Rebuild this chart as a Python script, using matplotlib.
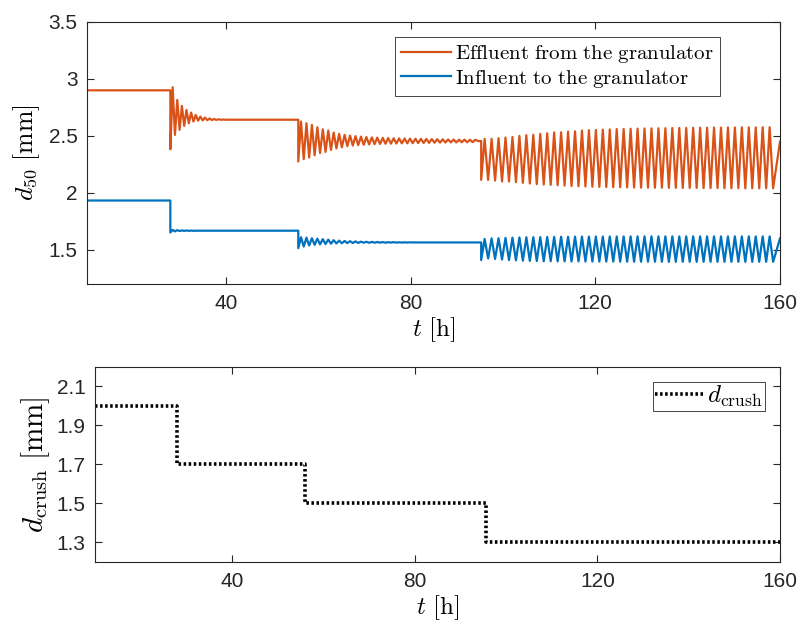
import matplotlib
matplotlib.use("Agg")
import matplotlib.pyplot as plt
import numpy as np

plt.rcParams['font.family'] = ['Liberation Sans', 'DejaVu Sans']
plt.rcParams['mathtext.fontset'] = 'cm'

# time axis range and step times [h]
t_start, t_end = 10.0, 160.0
t_jump = [28.0, 55.7, 95.3]
period = [1.0, 1.18, 1.505]

# effluent from the granulator, d50 [mm]
eff_start = 2.90
eff_settle = [2.642, 2.455]
eff_trough_1 = [2.383, 2.509, 2.553, 2.588, 2.611, 2.626, 2.633, 2.636, 2.638, 2.639, 2.640, 2.641, 2.641, 2.642]
eff_peak_1 = [2.927, 2.816, 2.763, 2.728, 2.705, 2.684, 2.670, 2.661, 2.653, 2.648, 2.646, 2.644, 2.643, 2.642]
eff_trough_2 = [2.275, 2.296, 2.310, 2.330, 2.350, 2.360, 2.377, 2.390, 2.400, 2.410, 2.415, 2.419, 2.422,
                2.425, 2.427, 2.429, 2.431, 2.432, 2.433, 2.434, 2.435, 2.436, 2.437, 2.438, 2.439, 2.440,
                2.441, 2.442, 2.443, 2.443, 2.444, 2.444, 2.445]
eff_peak_2 = [2.626, 2.611, 2.596, 2.576, 2.558, 2.547, 2.529, 2.518, 2.509, 2.503, 2.498, 2.494, 2.490,
              2.487, 2.485, 2.483, 2.481, 2.479, 2.478, 2.477, 2.476, 2.475, 2.474, 2.473, 2.472, 2.471,
              2.470, 2.469, 2.468, 2.467, 2.467, 2.466, 2.466]
eff_trough_3 = [2.114, 2.114, 2.108, 2.100, 2.100, 2.094, 2.088, 2.082, 2.076, 2.073, 2.070, 2.067, 2.064,
                2.060, 2.058, 2.056, 2.054, 2.052, 2.051, 2.050, 2.049, 2.048, 2.047, 2.046, 2.046, 2.045,
                2.045, 2.044, 2.044, 2.043, 2.043, 2.043, 2.042, 2.042, 2.042, 2.041, 2.041, 2.041, 2.040,
                2.040, 2.040, 2.040, 2.040]
eff_peak_3 = [2.474, 2.474, 2.480, 2.486, 2.490, 2.500, 2.506, 2.510, 2.518, 2.523, 2.530, 2.532, 2.538,
              2.540, 2.547, 2.550, 2.552, 2.555, 2.557, 2.560, 2.561, 2.563, 2.564, 2.565, 2.566, 2.567,
              2.568, 2.569, 2.570, 2.570, 2.571, 2.572, 2.572, 2.573, 2.573, 2.574, 2.574, 2.575, 2.575,
              2.575, 2.576, 2.576]
eff_end = 2.45

# influent to the granulator, d50 [mm]
inf_start = 1.933
inf_settle = [1.668, 1.565]
inf_trough_1 = [1.652, 1.662, 1.665, 1.666, 1.667, 1.667, 1.668]
inf_peak_1 = [1.675, 1.673, 1.671, 1.670, 1.669, 1.668, 1.668]
inf_trough_2 = [1.515, 1.529, 1.538, 1.544, 1.548, 1.551, 1.554, 1.556, 1.558, 1.559, 1.560, 1.561, 1.562,
                1.562, 1.563, 1.563, 1.563, 1.564, 1.564, 1.564, 1.564, 1.565, 1.565]
inf_peak_2 = [1.611, 1.607, 1.602, 1.598, 1.594, 1.590, 1.585, 1.581, 1.578, 1.576, 1.574, 1.572, 1.571,
              1.570, 1.569, 1.568, 1.567, 1.567, 1.566, 1.566, 1.566, 1.565, 1.565]
inf_trough_3 = [1.410, 1.425, 1.420, 1.415, 1.410, 1.408, 1.405, 1.403, 1.402, 1.400, 1.400, 1.399, 1.399,
                1.398, 1.398, 1.398, 1.397, 1.397, 1.397, 1.397, 1.396, 1.396, 1.396, 1.396, 1.396, 1.396,
                1.395, 1.395, 1.395, 1.395, 1.395, 1.395, 1.395, 1.395, 1.395, 1.395, 1.395, 1.395, 1.395,
                1.395, 1.395, 1.395, 1.395]
inf_peak_3 = [1.595, 1.600, 1.602, 1.605, 1.607, 1.609, 1.610, 1.611, 1.612, 1.613, 1.614, 1.615, 1.615,
              1.616, 1.616, 1.616, 1.617, 1.617, 1.617, 1.617, 1.617, 1.618, 1.618, 1.618, 1.618, 1.618,
              1.618, 1.618, 1.618, 1.618, 1.618, 1.618, 1.618, 1.618, 1.618, 1.618, 1.618, 1.618, 1.618,
              1.618, 1.618, 1.618]
inf_end = 1.60

# crushing size
crush_t = [10.0, 28.0, 56.0, 95.5, 160.0]
crush_d = [2.0, 1.7, 1.5, 1.3, 1.3]


def trace(start, settle, troughs, peaks, end):
    # piecewise line through the read-off extremes of each oscillation
    tt = [t_start, t_jump[0]]
    yy = [start, start]
    for i in range(3):
        P = period[i]
        t0 = t_jump[i]
        for k in range(len(troughs[i])):
            tt.append(t0 + k * P)
            yy.append(troughs[i][k])
            if k < len(peaks[i]):
                tt.append(t0 + (k + 0.5) * P)
                yy.append(peaks[i][k])
        if i < 2:
            tt += [t0 + len(troughs[i]) * P, t_jump[i + 1]]
            yy += [settle[i], settle[i]]
    tt.append(t_end)
    yy.append(end)
    return np.array(tt), np.array(yy)


t_eff, y_eff = trace(eff_start, eff_settle, [eff_trough_1, eff_trough_2, eff_trough_3],
                     [eff_peak_1, eff_peak_2, eff_peak_3], eff_end)
t_inf, y_inf = trace(inf_start, inf_settle, [inf_trough_1, inf_trough_2, inf_trough_3],
                     [inf_peak_1, inf_peak_2, inf_peak_3], inf_end)

axcol = '#262626'
fig = plt.figure(figsize=(8, 6.27), dpi=100)
ax1 = fig.add_axes([0.109, 0.547, 0.866, 0.418])
ax2 = fig.add_axes([0.119, 0.104, 0.856, 0.311])

ax1.plot(t_eff, y_eff, color='#D95319', lw=1.6, label=r'$\mathrm{Effluent\ from\ the\ granulator}$')
ax1.plot(t_inf, y_inf, color='#0072BD', lw=1.6, label=r'$\mathrm{Influent\ to\ the\ granulator}$')
ax1.set_xlim(t_start, t_end)
ax1.set_ylim(1.2, 3.5)
ax1.set_xticks([40, 80, 120, 160])
ax1.set_yticks([1.5, 2, 2.5, 3, 3.5])
ax1.set_yticklabels(['1.5', '2', '2.5', '3', '3.5'])
ax1.set_xlabel(r'$t\ [\mathrm{h}]$', fontsize=18, labelpad=2)
ax1.set_ylabel(r'$d_{50}\ [\mathrm{mm}]$', fontsize=18.5, labelpad=5)
leg1 = ax1.legend(loc='upper right', bbox_to_anchor=(0.913, 0.943), fontsize=15, frameon=True,
                  fancybox=False, framealpha=1, edgecolor=axcol, handlelength=2.4,
                  handletextpad=0.15, borderpad=0.3, labelspacing=0.12, borderaxespad=0)
leg1.get_frame().set_linewidth(0.6)

ax2.plot(crush_t, crush_d, color='black', ls=(0, (0.7, 0.7)), lw=2.6, drawstyle='steps-post',
         label=r'$d_{\mathrm{crush}}$')
ax2.set_xlim(t_start, t_end)
ax2.set_ylim(1.2, 2.2)
ax2.set_xticks([40, 80, 120, 160])
ax2.set_yticks([1.3, 1.5, 1.7, 1.9, 2.1])
ax2.set_xlabel(r'$t\ [\mathrm{h}]$', fontsize=18, labelpad=2)
ax2.set_ylabel(r'$d_{\mathrm{crush}}\ [\mathrm{mm}]$', fontsize=21, labelpad=3)
leg2 = ax2.legend(loc='upper right', bbox_to_anchor=(0.978, 0.923), fontsize=18, frameon=True,
                  fancybox=False, framealpha=1, edgecolor=axcol, handlelength=2.0,
                  handletextpad=0.1, borderpad=0.08, borderaxespad=0)
leg2.get_frame().set_linewidth(0.6)

for ax in (ax1, ax2):
    for s in ax.spines.values():
        s.set_color(axcol)
        s.set_linewidth(0.8)
    ax.tick_params(direction='in', top=True, right=True, length=5, width=0.8,
                   colors=axcol, labelsize=15, pad=7)

fig.savefig('out.png', dpi=100)
